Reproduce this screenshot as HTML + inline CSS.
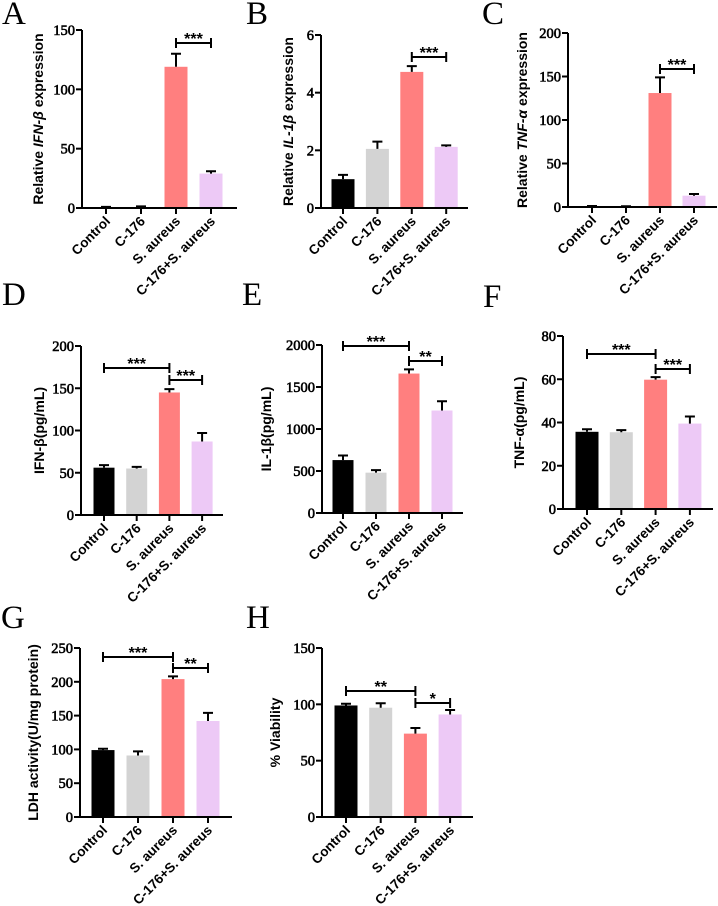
<!DOCTYPE html>
<html><head><meta charset="utf-8"><style>
body{margin:0;background:#fff}
svg{display:block}
</style></head><body>
<svg id="fig" width="718" height="906" viewBox="0 0 718 906" xmlns="http://www.w3.org/2000/svg"></svg>
<script>
const categories=["Control","C-176","S. aureus","C-176+S. aureus"];
const colors=["#000000","#d3d3d3","#ff7f7f","#edc9f6"];
const valsA=[0.5,0.8,119,29], errA=[0.5,0.6,11,2], ticksA=[0,50,100,150];
const valsB=[1.0,2.05,4.72,2.12], errB=[0.15,0.25,0.2,0.05], ticksB=[0,2,4,6];
const valsC=[0.8,0.5,131,13], errC=[0.4,0.3,18,2], ticksC=[0,50,100,150,200];
const valsD=[56,55,145,87], errD=[3,2,4,10], ticksD=[0,50,100,150,200];
const valsE=[630,480,1660,1220], errE=[55,30,50,110], ticksE=[0,500,1000,1500,2000];
const valsF=[35.7,35.5,59.8,39.5], errF=[1.2,1,1.2,3.3], ticksF=[0,20,40,60,80];
const valsG=[99,91,204,142], errG=[2,6,4,12], ticksG=[0,50,100,150,200,250];
const valsH=[99,97,74,91], errH=[1.5,4,5,4], ticksH=[0,50,100,150];
const NS="http://www.w3.org/2000/svg";
const svg=document.getElementById('fig');
const SERIF='"Liberation Serif", serif', SANS='"Liberation Sans", sans-serif';
function mk(tag,attrs,parent,text){const e=document.createElementNS(NS,tag);for(const k in attrs)e.setAttribute(k,attrs[k]);if(text!==undefined)e.textContent=text;(parent||svg).appendChild(e);return e;}
const panels=[
 {id:'a',letter:'A',lx:2,ly:24,ax:82,top:30,bot:208,xend:237,c0:106,pitch:35,bw:23,vals:valsA,err:errA,ticks:ticksA,title:['Relative ','IFN-β',' expression'],tx:43,br:[[2,3,43,'***']]},
 {id:'b',letter:'B',lx:246,ly:24,ax:321,top:35,bot:208,xend:468,c0:343,pitch:34.4,bw:23,vals:valsB,err:errB,ticks:ticksB,title:['Relative ','IL-1β',' expression'],tx:293,br:[[2,3,57,'***']]},
 {id:'c',letter:'C',lx:482,ly:24,ax:568,top:33,bot:207,xend:717,c0:592,pitch:34,bw:23,vals:valsC,err:errC,ticks:ticksC,title:['Relative ','TNF-α',' expression'],tx:527,br:[[2,3,69,'***']]},
 {id:'d',letter:'D',lx:2,ly:305,ax:81,top:346,bot:515,xend:223,c0:104,pitch:32.7,bw:21,vals:valsD,err:errD,ticks:ticksD,title:['IFN-β(pg/mL)'],tx:44,br:[[0,2,368,'***'],[2,3,380,'***']]},
 {id:'e',letter:'E',lx:242,ly:305,ax:322,top:345,bot:513,xend:463,c0:343,pitch:33,bw:21,vals:valsE,err:errE,ticks:ticksE,title:['IL-1β(pg/mL)'],tx:271,br:[[0,2,346,'***'],[2,3,361,'**']]},
 {id:'f',letter:'F',lx:483,ly:307,ax:563,top:336,bot:509,xend:713,c0:587,pitch:34.3,bw:23,vals:valsF,err:errF,ticks:ticksF,title:['TNF-α(pg/mL)'],tx:524,br:[[0,2,354,'***'],[2,3,369,'***']]},
 {id:'g',letter:'G',lx:1,ly:628,ax:80,top:648,bot:817,xend:232,c0:103,pitch:35,bw:23,vals:valsG,err:errG,ticks:ticksG,title:['LDH activity(U/mg protein)'],tx:38,br:[[0,2,657,'***'],[2,3,668,'**']]},
 {id:'h',letter:'H',lx:246,ly:628,ax:322,top:648,bot:817,xend:473,c0:346,pitch:34.7,bw:23,vals:valsH,err:errH,ticks:ticksH,title:['% Viability'],tx:280,br:[[0,2,691,'**'],[2,3,703,'*']]}
];
panels.forEach(p=>{
 const g=mk('g',{});
 
 
 const L=mk('text',{x:p.lx,y:p.ly,'font-family':SERIF,'font-size':33},g,p.letter);
 
 
 const ymax=p.ticks[p.ticks.length-1];
 const y=v=>p.bot-(v/ymax)*(p.bot-p.top);
 const x=i=>p.c0+i*p.pitch;
 p.vals.forEach((v,i)=>{
  const r=mk('rect',{x:x(i)-p.bw/2,y:y(v),width:p.bw,height:p.bot-y(v),fill:colors[i]},g);
  
  
  const top=y(v+p.err[i]);
  const e=mk('path',{d:`M${x(i)} ${y(v)}V${top}M${x(i)-5} ${top}H${x(i)+5}`,stroke:'#000','stroke-width':2,fill:'none'},g);
  
  
 });
 const ya=mk('path',{d:`M${p.ax} ${p.top}V${p.bot}`,stroke:'#000','stroke-width':2},g);
 
 
 const xa=mk('path',{d:`M${p.ax-6} ${p.bot}H${p.xend}`,stroke:'#000','stroke-width':2},g);
 
 
 p.ticks.forEach(t=>{
  mk('path',{d:`M${p.ax-6} ${y(t)}H${p.ax}`,stroke:'#000','stroke-width':2},g);
  const tl=mk('text',{x:p.ax-7,y:y(t)+5,'text-anchor':'end','font-family':SERIF,'font-size':14.5,stroke:'#000','stroke-width':0.6},g,t);
  
  
 });
 categories.forEach((c,i)=>{
  mk('path',{d:`M${x(i)} ${p.bot}V${p.bot+6}`,stroke:'#000','stroke-width':2},g);
  const cx=x(i)+5, cy=p.bot+14;
  const cl=mk('text',{x:cx,y:cy,'text-anchor':'end','font-family':SANS,'font-weight':'bold','font-size':13.5,transform:`rotate(-45 ${cx} ${cy})`},g,c);
  
  
 });
 const my=(p.top+p.bot)/2;
 const tt=mk('text',{x:p.tx,y:my,'text-anchor':'middle','font-family':SANS,'font-weight':'bold','font-size':14,transform:`rotate(-90 ${p.tx} ${my})`},g);
 
 
 p.title.forEach((s,k)=>{mk('tspan',k===1?{'font-style':'italic'}:{},tt,s);});
 p.br.forEach(b=>{
  const x1=x(b[0]),x2=x(b[1]),yy=b[2];
  const bp=mk('path',{d:`M${x1} ${yy-5}V${yy+5}M${x1} ${yy}H${x2}M${x2} ${yy-5}V${yy+5}`,stroke:'#000','stroke-width':2,fill:'none'},g);
  
  
  const st=mk('text',{x:(x1+x2)/2,y:yy+1,'text-anchor':'middle','font-family':SANS,'font-weight':'bold','font-size':16},g,b[3]);
  
  
 });
});
</script>
</body></html>
